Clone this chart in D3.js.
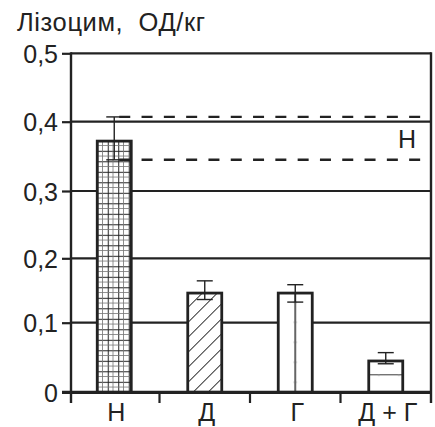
<!DOCTYPE html>
<html><head><meta charset="utf-8">
<script src="https://cdn.jsdelivr.net/npm/d3@7"></script>
<style>
html,body{margin:0;padding:0;background:#fff;}
svg{display:block;}
text{font-family:"Liberation Sans",Arial,sans-serif;fill:#222;}
</style></head>
<body>
<svg id="chart" width="435" height="427"></svg>
<script>
// ---- data ----
const categories = ["Н", "Д", "Г", "Д + Г"];
const values     = [0.372, 0.146, 0.146, 0.045];
const errHigh    = [0.407, 0.165, 0.159, 0.057];
const errLow     = [0.345, 0.136, 0.132, 0.041];
const normRange  = [0.345, 0.407];
const normLabel  = "Н";
const yTicks     = [0, 0.1, 0.2, 0.3, 0.4, 0.5];
const yTickLabels = ["0", "0,1", "0,2", "0,3", "0,4", "0,5"];
const patterns   = ["grid", "diag", "vstripe", "hstripe"];
const title      = "Лізоцим,  ОД/кг";

// ---- layout ----
const svg = d3.select("#chart");
const ink = "#222";
const axisX = 71, rightX = 431;
const y = d3.scaleLinear().domain(yTicks).range([392.3, 322.7, 258.3, 191, 121.7, 53.3]);
const x = d3.scaleBand().domain(categories).range([69, 431]).paddingInner(0).paddingOuter(0);
const barW = 34;

// ---- patterns ----
const defs = svg.append("defs");
categories.forEach((c, i) => {
  const bx = x(c) + x.bandwidth() / 2 - barW / 2;
  const id = "pat" + i;
  const kind = patterns[i];
  if (kind === "grid") {
    const s = 10.5;
    const p = defs.append("pattern").attr("id", id).attr("patternUnits", "userSpaceOnUse")
      .attr("width", s).attr("height", s).attr("x", bx).attr("y", y(0));
    p.append("line").attr("x1", 0).attr("x2", 0).attr("y1", 0).attr("y2", s).attr("stroke", ink).attr("stroke-width", 2);
    p.append("line").attr("x1", 0).attr("x2", s).attr("y1", 0).attr("y2", 0).attr("stroke", ink).attr("stroke-width", 2);
    p.append("line").attr("x1", s / 2).attr("x2", s / 2).attr("y1", 0).attr("y2", s).attr("stroke", "#777").attr("stroke-width", 0.8);
    p.append("line").attr("x1", 0).attr("x2", s).attr("y1", s / 2).attr("y2", s / 2).attr("stroke", "#777").attr("stroke-width", 0.8);
  } else if (kind === "diag") {
    const s = 10.6;
    const p = defs.append("pattern").attr("id", id).attr("patternUnits", "userSpaceOnUse")
      .attr("width", s).attr("height", s).attr("patternTransform", "rotate(45)");
    p.append("line").attr("x1", 0).attr("x2", 0).attr("y1", 0).attr("y2", s).attr("stroke", ink).attr("stroke-width", 1.8);
  } else if (kind === "vstripe") {
    const s = 40;
    const p = defs.append("pattern").attr("id", id).attr("patternUnits", "userSpaceOnUse")
      .attr("width", s).attr("height", 20).attr("x", x(c) + x.bandwidth() / 2 - s / 2).attr("y", y(0));
    p.append("line").attr("x1", s / 2).attr("x2", s / 2).attr("y1", 0).attr("y2", 20).attr("stroke", ink).attr("stroke-width", 1.4);
    p.append("line").attr("x1", s / 2 - 1.5).attr("x2", s / 2 + 1.5).attr("y1", 10).attr("y2", 10).attr("stroke", "#666").attr("stroke-width", 0.8);
  } else {
    const s = 18;
    const p = defs.append("pattern").attr("id", id).attr("patternUnits", "userSpaceOnUse")
      .attr("width", 20).attr("height", s).attr("x", bx).attr("y", y(0));
    p.append("line").attr("x1", 0).attr("x2", 20).attr("y1", 0).attr("y2", 0).attr("stroke", ink).attr("stroke-width", 1.8);
    p.append("line").attr("x1", 10).attr("x2", 10).attr("y1", -1.5).attr("y2", 1.5).attr("stroke", "#666").attr("stroke-width", 0.8);
  }
});

// ---- title ----
svg.append("text").attr("x", 17).attr("y", 31).attr("font-size", 25.5)
  .attr("letter-spacing", 0.6)
  .style("white-space", "pre").attr("xml:space", "preserve").text(title);

// ---- gridlines ----
svg.append("g").selectAll("line").data(yTicks.filter(d => d > 0)).join("line")
  .attr("x1", axisX).attr("x2", rightX)
  .attr("y1", d => y(d)).attr("y2", d => y(d))
  .attr("stroke", ink).attr("stroke-width", 2.2);

// ---- y axis ----
const yAxis = d3.axisLeft(y).tickValues(yTicks).tickSize(9).tickPadding(4)
  .tickFormat((d, i) => yTickLabels[i]);
const gy = svg.append("g").attr("transform", `translate(${axisX},0)`).call(yAxis);
gy.select(".domain").remove();
gy.selectAll(".tick line").attr("stroke", ink).attr("stroke-width", 2.2);
gy.selectAll(".tick text").attr("font-size", 25).attr("font-family", "Liberation Sans, Arial, sans-serif")
  .attr("fill", ink).attr("dy", "0.36em");
// vertical frame lines
svg.append("line").attr("x1", axisX).attr("x2", axisX).attr("y1", y(0.5) - 1).attr("y2", 403)
  .attr("stroke", ink).attr("stroke-width", 2.4);
svg.append("line").attr("x1", rightX).attr("x2", rightX).attr("y1", y(0.5) - 1).attr("y2", 403)
  .attr("stroke", ink).attr("stroke-width", 2.4);

// ---- bars ----
const bars = svg.append("g");
categories.forEach((c, i) => {
  const bx = x(c) + x.bandwidth() / 2 - barW / 2;
  const by = y(values[i]);
  const bh = y(0) - by;
  bars.append("rect").attr("x", bx).attr("y", by).attr("width", barW).attr("height", bh).attr("fill", "#fff");
  bars.append("rect").attr("x", bx).attr("y", by).attr("width", barW).attr("height", bh).attr("fill", `url(#pat${i})`);
  bars.append("rect").attr("x", bx).attr("y", by).attr("width", barW).attr("height", bh)
    .attr("fill", "none").attr("stroke", ink).attr("stroke-width", 2.8);
});

// ---- error bars ----
const capW = 16;
categories.forEach((c, i) => {
  const cx = x(c) + x.bandwidth() / 2;
  const g = svg.append("g").attr("stroke", ink).attr("stroke-width", 1.4);
  g.append("line").attr("x1", cx).attr("x2", cx).attr("y1", y(errHigh[i])).attr("y2", y(errLow[i]));
  g.append("line").attr("x1", cx - capW / 2).attr("x2", cx + capW / 2).attr("y1", y(errHigh[i])).attr("y2", y(errHigh[i]));
  g.append("line").attr("x1", cx - capW / 2).attr("x2", cx + capW / 2).attr("y1", y(errLow[i])).attr("y2", y(errLow[i]));
});

// ---- norm dashed lines ----
const nx = x(categories[0]) + x.bandwidth() / 2 + 5;
svg.append("g").selectAll("line").data(normRange).join("line")
  .attr("x1", nx).attr("x2", 426)
  .attr("y1", d => y(d)).attr("y2", d => y(d))
  .attr("stroke", ink).attr("stroke-width", 2.4).attr("stroke-dasharray", "11,11.3");
svg.append("text").attr("x", 407).attr("y", y(d3.mean(normRange)) + 1).attr("dy", "0.36em")
  .attr("text-anchor", "middle").attr("font-size", 25).text(normLabel);

// ---- x axis ----
svg.append("line").attr("x1", 62).attr("x2", rightX + 1).attr("y1", y(0)).attr("y2", y(0))
  .attr("stroke", ink).attr("stroke-width", 3.2);
svg.append("g").selectAll("line").data(categories.slice(1)).join("line")
  .attr("x1", d => x(d)).attr("x2", d => x(d)).attr("y1", y(0)).attr("y2", 403)
  .attr("stroke", ink).attr("stroke-width", 2.2);
svg.append("g").selectAll("text").data(categories).join("text")
  .attr("x", d => x(d) + x.bandwidth() / 2 + 2).attr("y", 421)
  .attr("text-anchor", "middle").attr("font-size", 25).text(d => d);
</script>
</body></html>
